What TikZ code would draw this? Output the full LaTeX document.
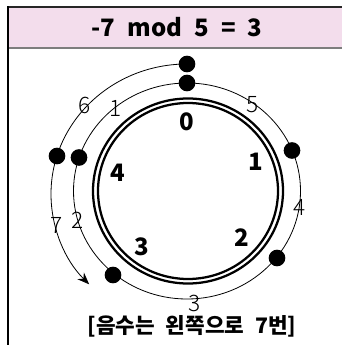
\documentclass[tikz,border=0pt]{standalone}
\usepackage{fontspec}
\setmainfont{Noto Sans CJK KR}[WordSpace=2.2]
\newfontfamily\thinfont{Noto Sans CJK KR Light}
\usetikzlibrary{arrows.meta}
\definecolor{headpink}{RGB}{243,221,236}
\definecolor{headline}{RGB}{125,125,125}

\begin{document}
\begin{tikzpicture}[x=0.75pt,y=-0.75pt,
  dot/.style={circle,fill=black,inner sep=0pt,minimum size=12.5pt},
  stepnum/.style={font=\thinfont\fontsize{17}{17}\selectfont,inner sep=0pt},
  ringnum/.style={font=\bfseries\fontsize{18}{18}\selectfont,inner sep=0pt},
  orbit/.style={line width=0.6pt}]
  \useasboundingbox (0,0) rectangle (342,345);

  % header
  \fill[headpink] (8,7) rectangle (342,48);
  \draw[headline,line width=1.5pt] (8,48.5) -- (342,48.5);
  \draw[black!85,line width=1.5pt] (8,7) -- (342,7);
  \draw[line width=1.5pt] (8,6.2) -- (8,345);
  \node[font=\bfseries\fontsize{18}{18}\selectfont] (title) at (177,27) {-7 mod 5 = 3};

  % ring of residues
  \draw[line width=1.7pt] (188,191) ellipse [x radius=95, y radius=92.5];
  \draw[line width=1.7pt] (188,191) ellipse [x radius=90, y radius=88];
  \node[ringnum] (r0) at (187,122) {0};
  \node[ringnum] (r1) at (256,162) {1};
  \node[ringnum] (r2) at (242,238) {2};
  \node[ringnum] (r3) at (142,247) {3};
  \node[ringnum] (r4) at (118,173) {4};

  % inner orbit: +1 steps
  \draw[orbit] (187,191) ellipse [x radius=113.5, y radius=108];
  \node[dot] (in0) at (187,83) {};
  \node[dot] (in1) at (292,150.5) {};
  \node[dot] (in2) at (277,258) {};
  \node[dot] (in3) at (113,275) {};
  \node[dot] (in4) at (79,157.5) {};
  \node[stepnum] (s5) at (253,105) {5};
  \node[stepnum] (s4) at (300,207) {4};
  \node[stepnum] (s3) at (195,303) {3};
  \node[stepnum] (s2) at (78,220) {2};
  \node[stepnum] (s1) at (116,108) {1};

  % outer orbit: -7 steps
  \draw[orbit,-{Stealth[length=9pt,width=7pt]}] (187,64) arc [start angle=-90, end angle=-224, x radius=136, y radius=130];
  \node[dot] (out0) at (187,64) {};
  \node[dot] (out1) at (57,156) {};
  \node[stepnum] (s6) at (85,105) {6};
  \node[stepnum] (s7) at (57,225) {7};

  \node[font=\bfseries\fontsize{16}{16}\selectfont] (note) at (192,326) {[음수는 왼쪽으로 7번]};
\end{tikzpicture}
\end{document}
